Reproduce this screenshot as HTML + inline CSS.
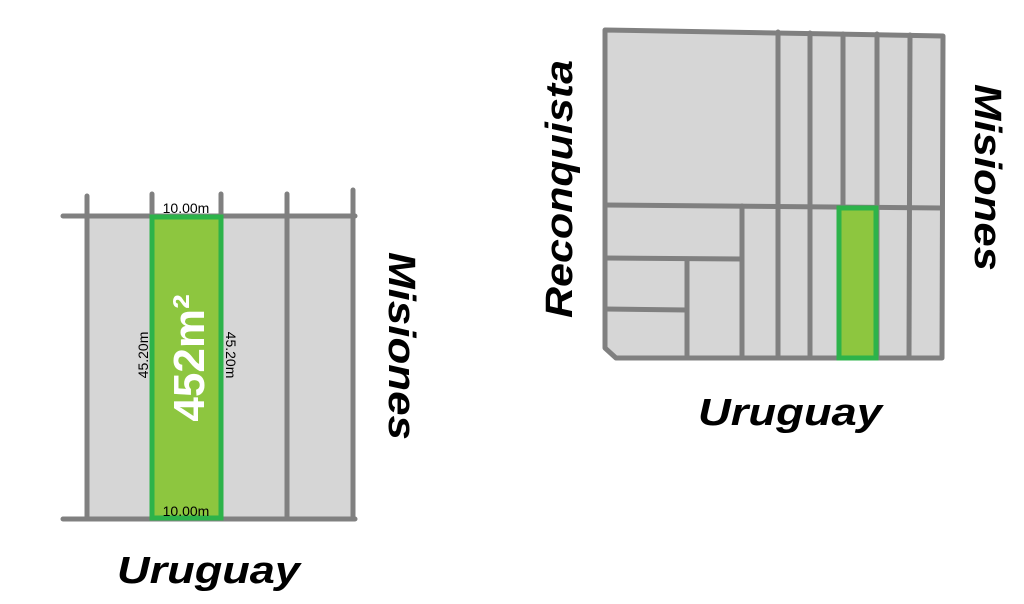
<!DOCTYPE html>
<html><head><style>body{margin:0;background:#fff}svg{display:block}</style></head><body>
<svg width="1024" height="604" viewBox="0 0 1024 604" xmlns="http://www.w3.org/2000/svg" font-family="Liberation Sans, sans-serif">
<g stroke="#808080" stroke-width="5" stroke-linecap="round" fill="none">
<rect x="87" y="216" width="266" height="303" fill="#d6d6d6" stroke="none"/>
<line x1="63" y1="216" x2="355" y2="216"/>
<line x1="63" y1="519" x2="355" y2="519"/>
<line x1="87" y1="196" x2="87" y2="519"/>
<line x1="152" y1="194" x2="152" y2="519"/>
<line x1="221" y1="194" x2="221" y2="519"/>
<line x1="287" y1="194" x2="287" y2="519"/>
<line x1="353" y1="190" x2="353" y2="519"/>
</g>
<rect x="152" y="217" width="69" height="301" fill="#8dc63f" stroke="#2db34a" stroke-width="5"/>
<g font-size="14" fill="#000" text-anchor="middle">
<text x="186" y="213">10.00m</text>
<text x="186" y="516">10.00m</text>
<text transform="translate(148,355) rotate(-90)">45.20m</text>
<text transform="translate(226,355) rotate(90)">45.20m</text>
</g>
<text transform="translate(204,358) rotate(-90)" font-size="44" font-weight="bold" fill="#fff" text-anchor="middle">452m²</text>

<polygon points="605,30 943,36 942,358 616,358 605,348" fill="#d6d6d6"/>
<g stroke="#808080" stroke-width="5" stroke-linecap="round" stroke-linejoin="round" fill="none">
<polygon points="605,30 943,36 942,358 616,358 605,348"/>
<line x1="605" y1="205" x2="942" y2="208"/>
<line x1="778" y1="32" x2="778" y2="358"/>
<line x1="810" y1="33" x2="810" y2="358"/>
<line x1="843" y1="34" x2="843" y2="358"/>
<line x1="877" y1="34" x2="877" y2="358"/>
<line x1="910" y1="35" x2="909" y2="358"/>
<line x1="742" y1="206" x2="742" y2="358"/>
<line x1="605" y1="258" x2="742" y2="259"/>
<line x1="687" y1="259" x2="687" y2="358"/>
<line x1="605" y1="309" x2="687" y2="310"/>
</g>
<rect x="839" y="208" width="37" height="150" fill="#8dc63f" stroke="#2db34a" stroke-width="5"/>

<g font-size="38" font-weight="bold" font-style="italic" fill="#000">
<text x="117" y="583" textLength="183" lengthAdjust="spacingAndGlyphs">Uruguay</text>
<text x="698" y="425" textLength="184" lengthAdjust="spacingAndGlyphs">Uruguay</text>
<text transform="translate(389,252) rotate(90)" textLength="188" lengthAdjust="spacingAndGlyphs">Misiones</text>
<text transform="translate(975,84) rotate(90)" textLength="187" lengthAdjust="spacingAndGlyphs">Misiones</text>
<text transform="translate(572,318) rotate(-90)" textLength="258" lengthAdjust="spacingAndGlyphs">Reconquista</text>
</g>
</svg>
</body></html>
